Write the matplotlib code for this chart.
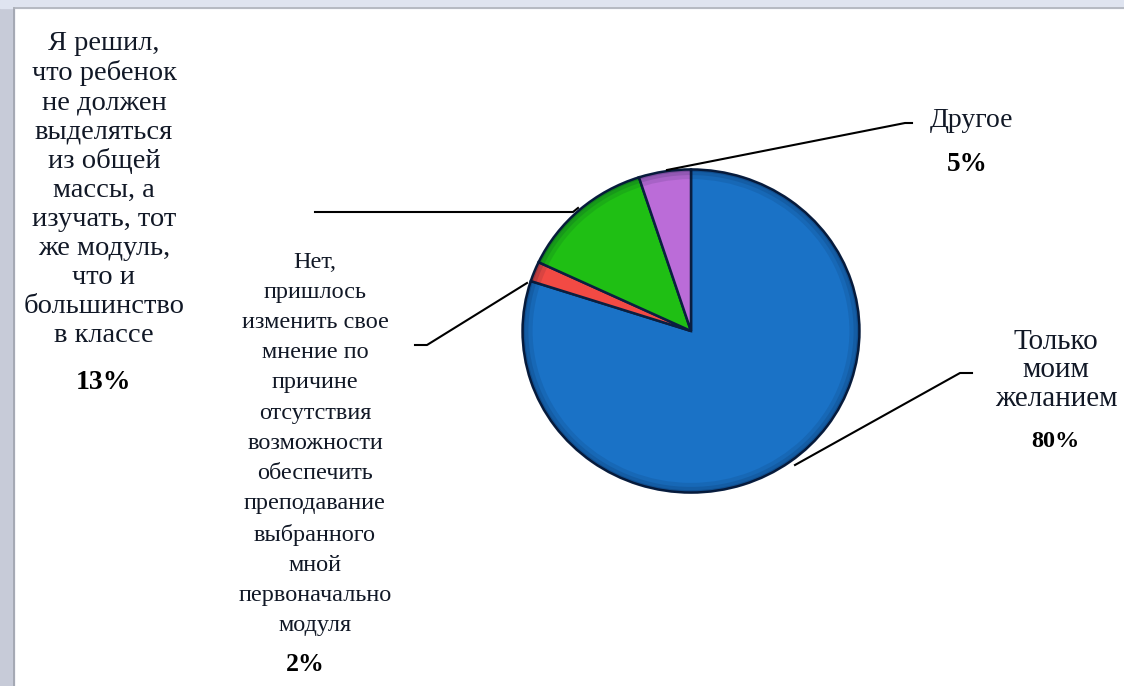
import matplotlib
matplotlib.use("Agg")
import matplotlib.pyplot as plt
from matplotlib.patches import Rectangle

W, H = 1124, 686

labels = [
    "Только\nмоим\nжеланием",
    "Нет,\nпришлось\nизменить свое\nмнение по\nпричине\nотсутствия\nвозможности\nобеспечить\nпреподавание\nвыбранного\nмной\nпервоначально\nмодуля",
    "Я решил,\nчто ребенок\nне должен\nвыделяться\nиз общей\nмассы, а\nизучать, тот\nже модуль,\nчто и\nбольшинство\nв классе",
    "Другое",
]
values = [80, 2, 13, 5]
pct_labels = ["80%", "2%", "13%", "5%"]
colors = ["#1a72c6", "#f24a44", "#1fbf14", "#bb6cd8"]

plt.rcParams['font.family'] = ['Liberation Serif', 'DejaVu Serif']

fig = plt.figure(figsize=(W / 100, H / 100), dpi=100)
fig.patch.set_facecolor("white")

# background frame, pixel coordinates with y from the top
bg = fig.add_axes([0, 0, 1, 1])
bg.set_xlim(0, W)
bg.set_ylim(H, 0)
bg.axis("off")
bg.add_patch(Rectangle((0, 0), 14, H, color="#c7cbd8", zorder=0))
bg.add_patch(Rectangle((0, 0), W, 8, color="#dfe4f0", zorder=0))
bg.plot([14, 14], [8, H], color="#9fa3ad", lw=1.2, zorder=1)
bg.plot([14, W], [8, 8], color="#aeb2ba", lw=1.2, zorder=1)

# pie, a bit wider than tall like the source
cx, cy, rx, ry = 691, 331, 171, 164
pax = fig.add_axes([(cx - rx) / W, (H - cy - ry) / H, 2 * rx / W, 2 * ry / H])
pax.pie(values, colors=colors, startangle=90, counterclock=False, radius=1,
        wedgeprops=dict(edgecolor="#0a1f40", linewidth=1.8), frame=True)
# darker rim for a bit of the bevel look
for w, a in [(0.06, 0.10), (0.035, 0.12), (0.015, 0.18)]:
    pax.pie([1], colors=["#001030"], radius=1, frame=True,
            wedgeprops=dict(width=w, alpha=a, linewidth=0))
pax.set_aspect("auto")
pax.set_xlim(-1.015, 1.015)
pax.set_ylim(-1.015, 1.015)
pax.axis("off")

ln = fig.add_axes([0, 0, 1, 1])
ln.set_xlim(0, W)
ln.set_ylim(H, 0)
ln.axis("off")

# leader lines
ln.plot([795, 960, 972], [465, 373, 373], color="black", lw=1.5)
ln.plot([415, 427, 527], [345, 345, 283], color="black", lw=1.5)
ln.plot([315, 573, 578], [212, 212, 208], color="black", lw=1.5)
ln.plot([667, 905, 912], [170, 123, 123], color="black", lw=1.5)

tc = "#111826"
ln.text(1056, 329, labels[0], ha="center", va="top", fontsize=21, linespacing=1.12, color=tc)
ln.text(1055, 431, pct_labels[0], ha="center", va="top", fontsize=17.5, fontweight="bold", color="black")

ln.text(315, 252, labels[1], ha="center", va="top", fontsize=17.5, linespacing=1.57, color=tc)
ln.text(305, 653, pct_labels[1], ha="center", va="top", fontsize=18.5, fontweight="bold", color="black")

ln.text(104, 31, labels[2], ha="center", va="top", fontsize=20.5, linespacing=1.21, color=tc)
ln.text(104, 370, pct_labels[2], ha="center", va="top", fontsize=20, fontweight="bold", color="black")

ln.text(971, 108, labels[3], ha="center", va="top", fontsize=20, color=tc)
ln.text(967, 152, pct_labels[3], ha="center", va="top", fontsize=19.5, fontweight="bold", color="black")

fig.savefig("out.png", dpi=100)
